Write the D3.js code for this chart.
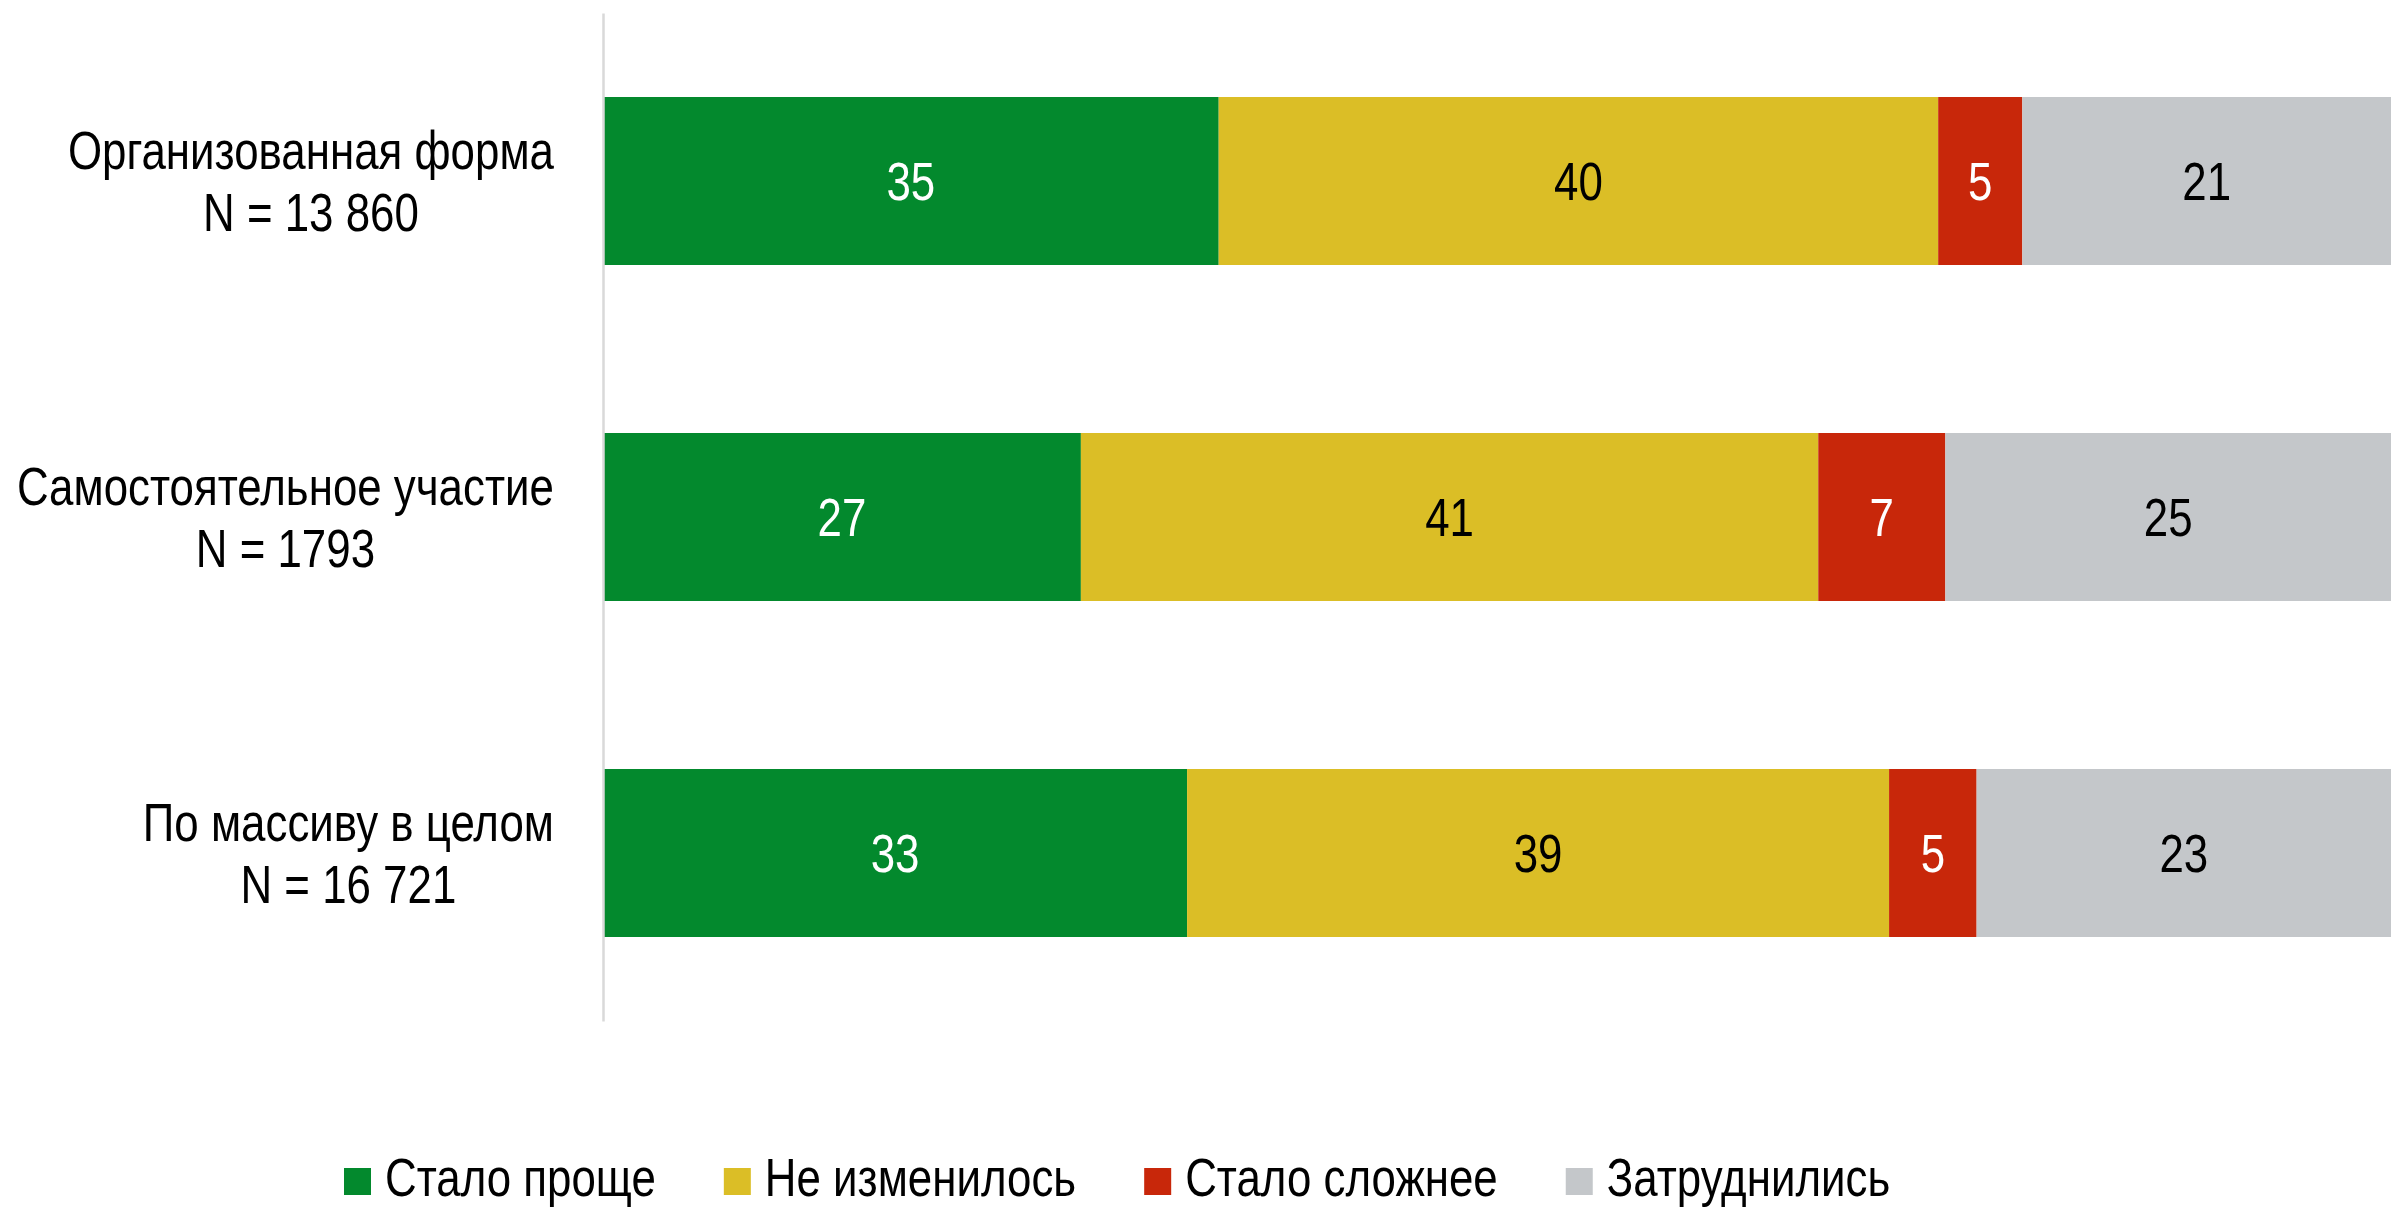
<!DOCTYPE html>
<html>
<head>
<meta charset="utf-8">
<script src="https://cdn.jsdelivr.net/npm/d3@7"></script>
<style>
  html, body { margin: 0; padding: 0; background: #ffffff; }
  svg { display: block; }
  text { font-family: "Liberation Sans", Arial, sans-serif; }
</style>
</head>
<body>
<svg id="chart" width="2402" height="1207"></svg>
<script>
// ---- data ----
const categories = ["Организованная форма", "Самостоятельное участие", "По массиву в целом"];
const sampleSizes = ["N = 13 860", "N = 1793", "N = 16 721"];
const seriesNames = ["Стало проще", "Не изменилось", "Стало сложнее", "Затруднились"];
const seriesColors = ["#03892d", "#dbbe26", "#c8270a", "#c4c7ca"];
const labelColors = ["#ffffff", "#000000", "#ffffff", "#000000"];
// bar shares (%)
const easier    = [34.4, 26.7, 32.7];
const unchanged = [40.2, 41.2, 39.3];
const harder    = [4.7, 7.1, 4.9];
const unsure    = [20.6, 24.9, 23.2];
// printed labels
const easierLabels    = [35, 27, 33];
const unchangedLabels = [40, 41, 39];
const harderLabels    = [5, 7, 5];
const unsureLabels    = [21, 25, 23];

const seriesValues = [easier, unchanged, harder, unsure];
const seriesLabels = [easierLabels, unchangedLabels, harderLabels, unsureLabels];

const svg = d3.select("#chart");
const left = 603, right = 2391;
const fontSize = 53.5;
const narrow = 0.82; // Arial Narrow look: condensed Liberation Sans

function narrowText(parent, x, y, str, anchor, color, size, dy) {
  const g = parent.append("g").attr("transform", `translate(${x},${y}) scale(${narrow},1)`);
  const t = g.append("text").attr("x", 0).attr("y", 0).attr("dy", dy === undefined ? "0.35em" : dy)
    .attr("text-anchor", anchor).attr("font-size", size).attr("fill", color).text(str);
  return { g, width: t.node().getComputedTextLength() * narrow };
}
function measure(str, size) {
  const t = svg.append("text").attr("font-size", size).text(str);
  const w = t.node().getComputedTextLength() * narrow;
  t.remove();
  return w;
}

const y = d3.scaleBand().domain(categories).range([13, 1021]).paddingInner(0.5).paddingOuter(0.25);

const rows = categories.map((c, i) => {
  const total = d3.sum(seriesValues, s => s[i]);
  const x = d3.scaleLinear().domain([0, total]).range([left, right]);
  let acc = 0;
  return seriesValues.map((s, k) => {
    const seg = { cat: c, k, x0: x(acc), x1: x(acc + s[i]), label: seriesLabels[k][i] };
    acc += s[i];
    return seg;
  });
});

const g = svg.append("g");
rows.forEach(segs => {
  const grp = g.append("g");
  grp.selectAll("rect").data(segs).join("rect")
    .attr("x", d => d.x0)
    .attr("width", d => d.x1 - d.x0)
    .attr("y", d => y(d.cat))
    .attr("height", y.bandwidth())
    .attr("fill", d => seriesColors[d.k]);
  segs.forEach(d => {
    narrowText(grp, (d.x0 + d.x1) / 2, y(d.cat) + y.bandwidth() / 2, d.label, "middle", labelColors[d.k], fontSize);
  });
});

// left axis line
const axis = d3.axisLeft(y).tickSize(0).tickFormat("");
const axG = svg.append("g").attr("transform", `translate(${left},0)`).call(axis);
axG.select(".domain").attr("stroke", "#d9d9d9").attr("stroke-width", 2.5);

// category labels: block right-aligned, lines centered within block
const labelRight = 554;
const lh = 61.6;
categories.forEach((c, i) => {
  const cy = y(c) + y.bandwidth() / 2;
  const w = Math.max(measure(c, fontSize), measure(sampleSizes[i], fontSize));
  const cx = labelRight - w / 2;
  narrowText(svg, cx, cy - lh / 2, c, "middle", "#000", fontSize);
  narrowText(svg, cx, cy + lh / 2, sampleSizes[i], "middle", "#000", fontSize);
});

// legend
const legend = svg.append("g");
let lx = 344;
const sqY = 1168, sq = 27, baseY = 1196;
seriesNames.forEach((n, k) => {
  legend.append("rect").attr("x", lx).attr("y", sqY).attr("width", sq).attr("height", sq).attr("fill", seriesColors[k]);
  const r = narrowText(legend, lx + 41, baseY, n, "start", "#000", fontSize, 0);
  lx = lx + 41 + r.width + 68;
});
</script>
</body>
</html>
